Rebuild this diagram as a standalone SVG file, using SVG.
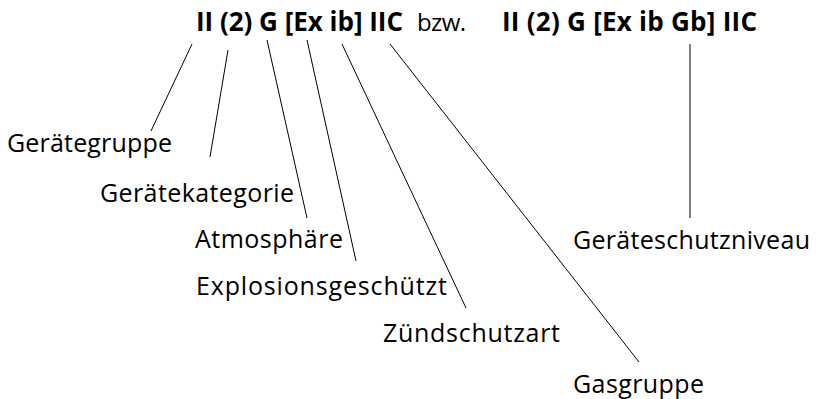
<svg xmlns="http://www.w3.org/2000/svg" width="818" height="399" viewBox="0 0 818 399">
  <style>
    .hd { font-family: "Open Sans", "Noto Sans", sans-serif; font-size: 26px; font-weight: bold; fill: #000; }
    .sep { font-family: "Open Sans", "Noto Sans", sans-serif; font-size: 24px; fill: #000; }
    .lbl { font-family: "Open Sans", "Noto Sans", sans-serif; font-size: 25px; fill: #000; }
    .ln { stroke: #000; stroke-width: 1; fill: none; }
  </style>
  <rect width="818" height="399" fill="#fff"/>
  <g id="header">
    <text class="hd" x="196" y="31" textLength="207">II (2) G [Ex ib] IIC</text>
    <text class="sep" x="417" y="31" textLength="49">bzw.</text>
    <text class="hd" x="502" y="31" textLength="255">II (2) G [Ex ib Gb] IIC</text>
  </g>
  <g id="connectors">
    <line class="ln" x1="192" y1="44" x2="151" y2="131"/>
    <line class="ln" x1="228" y1="50" x2="210" y2="157"/>
    <line class="ln" x1="267" y1="40" x2="307" y2="218"/>
    <line class="ln" x1="307" y1="40" x2="356" y2="261"/>
    <line class="ln" x1="342" y1="44" x2="466" y2="308"/>
    <line class="ln" x1="390" y1="44" x2="639" y2="362"/>
    <line class="ln" x1="690" y1="44" x2="690" y2="218"/>
  </g>
  <g id="geraetegruppe"><text class="lbl" x="7" y="152" textLength="165">Gerätegruppe</text></g>
  <g id="geraetekategorie"><text class="lbl" x="100" y="202" textLength="194">Gerätekategorie</text></g>
  <g id="atmosphaere"><text class="lbl" x="195" y="248" textLength="148">Atmosphäre</text></g>
  <g id="explosionsgeschuetzt"><text class="lbl" x="196" y="295" textLength="251">Explosionsgeschützt</text></g>
  <g id="zuendschutzart"><text class="lbl" x="383" y="342" textLength="177">Zündschutzart</text></g>
  <g id="gasgruppe"><text class="lbl" x="573" y="393" textLength="131">Gasgruppe</text></g>
  <g id="geraeteschutzniveau"><text class="lbl" x="573" y="249" textLength="237">Geräteschutzniveau</text></g>
</svg>
